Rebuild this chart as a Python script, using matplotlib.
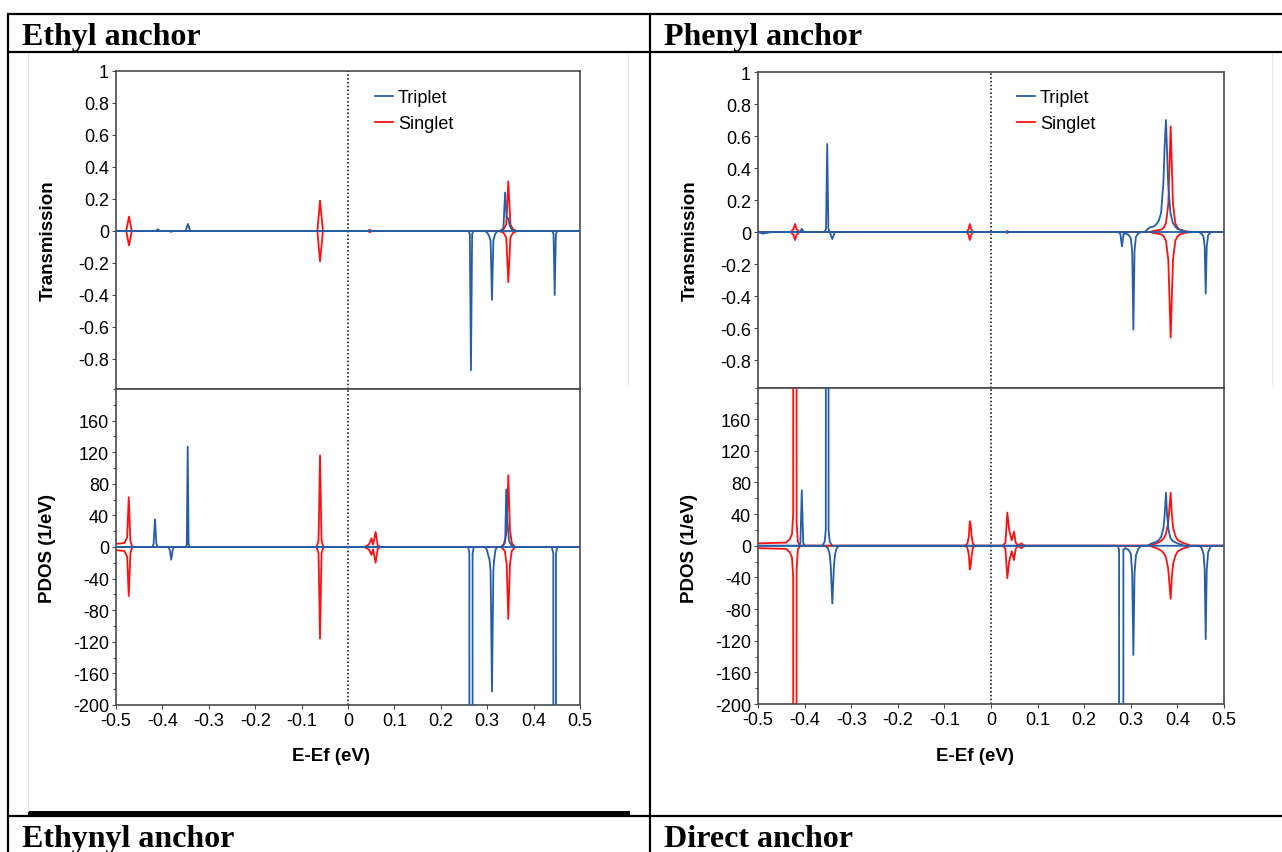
import numpy as np
import matplotlib
matplotlib.use("Agg")
import matplotlib.pyplot as plt
from matplotlib.ticker import FuncFormatter, MultipleLocator, FixedLocator

plt.rcParams['font.family'] = ['Liberation Sans', 'DejaVu Sans']
plt.rcParams['axes.unicode_minus'] = False

# ---------------- data (energies in eV) ----------------
# Ethyl anchor - transmission
eth_T_trip_up_E = [-0.5, -0.415, -0.41, -0.405, -0.35, -0.345, -0.34, 0.33, 0.335, 0.3385, 0.342, 0.345, 0.349, 0.353, 0.36, 0.5]
eth_T_trip_up_V = [0, 0, 0.01, 0, 0, 0.044, 0, 0, 0.02, 0.24, 0.085, 0.08, 0.03, 0.01, 0, 0]
eth_T_trip_dn_E = [-0.5, -0.386, -0.381, -0.376, 0.26, 0.2625, 0.265, 0.2675, 0.27, 0.295, 0.3, 0.304, 0.3073, 0.3103, 0.3133, 0.317, 0.322, 0.44, 0.443, 0.4455, 0.448, 0.451, 0.5]
eth_T_trip_dn_V = [0, 0, -0.005, 0, 0, -0.02, -0.87, -0.02, 0, 0, -0.01, -0.03, -0.06, -0.43, -0.06, -0.02, 0, 0, -0.02, -0.40, -0.02, 0, 0]
eth_T_sing_up_E = [-0.5, -0.478, -0.472, -0.466, -0.066, -0.0603, -0.054, 0.043, 0.047, 0.051, 0.325, 0.335, 0.341, 0.3455, 0.35, 0.356, 0.365, 0.5]
eth_T_sing_up_V = [0, 0, 0.09, 0, 0, 0.19, 0, 0, 0.008, 0, 0, 0.01, 0.04, 0.31, 0.04, 0.01, 0, 0]
eth_T_sing_dn_E = [-0.5, -0.478, -0.472, -0.466, -0.066, -0.0603, -0.054, 0.043, 0.047, 0.051, 0.325, 0.335, 0.341, 0.3455, 0.35, 0.356, 0.365, 0.5]
eth_T_sing_dn_V = [0, 0, -0.09, 0, 0, -0.19, 0, 0, -0.008, 0, 0, -0.01, -0.04, -0.32, -0.04, -0.01, 0, 0]

# Ethyl anchor - PDOS
eth_P_trip_up_E = [-0.5, -0.422, -0.419, -0.416, -0.413, -0.41, -0.35, -0.3475, -0.3455, -0.3435, -0.341, 0.33, 0.336, 0.339, 0.341, 0.344, 0.347, 0.352, 0.36, 0.5]
eth_P_trip_up_V = [0, 0, 4, 35, 4, 0, 0, 3, 127, 3, 0, 0, 3, 12, 73, 30, 8, 2, 0, 0]
eth_P_trip_dn_E = [-0.5, -0.387, -0.384, -0.381, -0.378, -0.375, 0.259, 0.2615, 0.2618, 0.2682, 0.2685, 0.271, 0.295, 0.299, 0.302, 0.305, 0.3073, 0.3103, 0.3133, 0.315, 0.318, 0.322, 0.439, 0.4425, 0.4428, 0.448, 0.4483, 0.451, 0.5]
eth_P_trip_dn_V = [0, 0, -4, -16, -4, 0, 0, -8, -2000, -2000, -8, 0, 0, -3, -10, -16, -30, -183, -30, -16, -3, 0, 0, -8, -2000, -2000, -8, 0, 0]
eth_P_sing_up_E = [-0.5, -0.482, -0.476, -0.4725, -0.469, -0.465, -0.068, -0.0635, -0.0603, -0.057, -0.053, 0.035, 0.042, 0.046, 0.0505, 0.054, 0.0595, 0.064, 0.07, 0.33, 0.338, 0.342, 0.3455, 0.349, 0.353, 0.36, 0.5]
eth_P_sing_up_V = [4, 5, 12, 63, 8, 0, 0, 8, 116, 8, 0, 0, 2, 4, 11, 3, 19, 2, 0, 0, 5, 22, 91, 22, 5, 0, 0]
eth_P_sing_dn_E = [-0.5, -0.482, -0.476, -0.4725, -0.469, -0.465, -0.068, -0.0635, -0.0603, -0.057, -0.053, 0.035, 0.042, 0.046, 0.0505, 0.054, 0.0595, 0.064, 0.07, 0.33, 0.338, 0.342, 0.3455, 0.349, 0.353, 0.36, 0.5]
eth_P_sing_dn_V = [-4, -5, -12, -62, -8, 0, 0, -8, -116, -8, 0, 0, -2, -4, -10, -3, -20, -2, 0, 0, -5, -22, -91, -22, -5, 0, 0]

# Phenyl anchor - transmission
phe_T_trip_up_E = [-0.5, -0.41, -0.406, -0.402, -0.357, -0.354, -0.3515, -0.349, -0.346, 0.33, 0.337, 0.342, 0.35, 0.355, 0.36, 0.365, 0.37, 0.3725, 0.3755, 0.3775, 0.38, 0.385, 0.39, 0.395, 0.4, 0.41, 0.42, 0.5]
phe_T_trip_up_V = [0, 0, 0.02, 0, 0, 0.02, 0.55, 0.02, 0, 0, 0.02, 0.03, 0.035, 0.05, 0.07, 0.12, 0.31, 0.53, 0.70, 0.53, 0.31, 0.12, 0.058, 0.035, 0.02, 0.01, 0, 0]
phe_T_trip_dn_E = [-0.5, -0.49, -0.48, -0.47, -0.346, -0.3405, -0.335, 0.272, 0.2775, 0.281, 0.2845, 0.29, 0.296, 0.3, 0.303, 0.3055, 0.308, 0.311, 0.316, 0.322, 0.445, 0.452, 0.456, 0.4585, 0.4607, 0.463, 0.466, 0.472, 0.5]
phe_T_trip_dn_V = [0, -0.01, -0.005, 0, 0, -0.044, 0, 0, -0.01, -0.09, -0.01, -0.01, -0.02, -0.04, -0.12, -0.61, -0.12, -0.03, -0.01, 0, 0, -0.01, -0.03, -0.09, -0.385, -0.09, -0.02, 0, 0]
phe_T_sing_up_E = [-0.5, -0.43, -0.4235, -0.4205, -0.4175, -0.411, -0.052, -0.048, -0.0455, -0.043, -0.038, 0.031, 0.035, 0.039, 0.34, 0.3555, 0.3655, 0.3705, 0.3755, 0.3805, 0.3855, 0.3905, 0.3955, 0.4005, 0.4055, 0.4155, 0.43, 0.5]
phe_T_sing_up_V = [0, 0, 0.02, 0.05, 0.02, 0, 0, 0.02, 0.05, 0.02, 0, 0, 0.006, 0, 0, 0.01, 0.015, 0.026, 0.055, 0.175, 0.66, 0.175, 0.055, 0.026, 0.015, 0.006, 0, 0]
phe_T_sing_dn_E = [-0.5, -0.43, -0.4235, -0.4205, -0.4175, -0.411, -0.052, -0.048, -0.0455, -0.043, -0.038, 0.031, 0.035, 0.039, 0.34, 0.3555, 0.3655, 0.3705, 0.3755, 0.3805, 0.3855, 0.3905, 0.3955, 0.4005, 0.4055, 0.4155, 0.43, 0.5]
phe_T_sing_dn_V = [0, 0, -0.02, -0.05, -0.02, 0, 0, -0.02, -0.05, -0.02, 0, 0, -0.006, 0, 0, -0.01, -0.015, -0.026, -0.055, -0.175, -0.66, -0.175, -0.055, -0.026, -0.015, -0.006, 0, 0]

# Phenyl anchor - PDOS
phe_P_trip_up_E = [-0.5, -0.412, -0.409, -0.406, -0.403, -0.4, -0.362, -0.357, -0.3545, -0.3535, -0.3495, -0.3485, -0.346, -0.341, 0.335, 0.345, 0.355, 0.36, 0.365, 0.37, 0.3725, 0.3755, 0.378, 0.381, 0.385, 0.39, 0.4, 0.415, 0.5]
phe_P_trip_up_V = [0, 0, 4, 70, 4, 0, 0, 5, 20, 2000, 2000, 20, 5, 0, 0, 3, 5, 7, 11, 22, 38, 67, 38, 20, 10, 6, 3, 0, 0]
phe_P_trip_dn_E = [-0.5, -0.356, -0.35, -0.3465, -0.344, -0.3405, -0.337, -0.3345, -0.331, -0.326, 0.272, 0.2748, 0.2752, 0.2836, 0.284, 0.288, 0.295, 0.3, 0.303, 0.3055, 0.308, 0.311, 0.316, 0.322, 0.447, 0.452, 0.456, 0.4585, 0.4607, 0.463, 0.466, 0.472, 0.5]
phe_P_trip_dn_V = [0, 0, -3, -10, -25, -73, -25, -10, -3, 0, 0, -5, -2000, -2000, -5, -3, -5, -10, -35, -138, -35, -12, -4, 0, 0, -3, -10, -30, -118, -30, -8, 0, 0]
phe_P_sing_up_E = [-0.5, -0.44, -0.432, -0.427, -0.4245, -0.4238, -0.4181, -0.4172, -0.4145, -0.41, -0.056, -0.0505, -0.0475, -0.0455, -0.0435, -0.0415, -0.039, -0.035, 0.025, 0.031, 0.035, 0.039, 0.0444, 0.0494, 0.053, 0.058, 0.062, 0.0658, 0.069, 0.075, 0.34, 0.355, 0.365, 0.37, 0.375, 0.38, 0.3825, 0.3855, 0.388, 0.391, 0.396, 0.401, 0.41, 0.42, 0.43, 0.5]
phe_P_sing_up_V = [3, 4, 8, 15, 40, 2500, 2500, 30, 5, 0, 0, 3, 12, 31, 26, 12, 3, 0, 0, 4, 42, 20, 7, 18, 4, 0, 2, 3, 1, 0, 0, 3, 6, 9, 14, 28, 45, 67, 40, 22, 12, 7, 4, 2, 0, 0]
phe_P_sing_dn_E = [-0.5, -0.44, -0.432, -0.427, -0.4245, -0.4238, -0.4181, -0.4172, -0.4145, -0.41, -0.056, -0.0505, -0.0475, -0.0455, -0.0435, -0.0415, -0.039, -0.035, 0.025, 0.031, 0.035, 0.039, 0.0444, 0.0494, 0.053, 0.058, 0.062, 0.0658, 0.069, 0.075, 0.34, 0.355, 0.365, 0.37, 0.375, 0.38, 0.3825, 0.3855, 0.388, 0.391, 0.396, 0.401, 0.41, 0.42, 0.43, 0.5]
phe_P_sing_dn_V = [-3, -4, -8, -15, -40, -2500, -2500, -30, -5, 0, 0, -3, -12, -30, -25, -12, -3, 0, 0, -4, -41, -20, -7, -18, -4, 0, -2, -3, -1, 0, 0, -3, -6, -9, -14, -28, -45, -67, -40, -22, -12, -7, -4, -2, 0, 0]

x_ticks = [-0.5, -0.4, -0.3, -0.2, -0.1, 0, 0.1, 0.2, 0.3, 0.4, 0.5]
T_ticks = [-0.8, -0.6, -0.4, -0.2, 0, 0.2, 0.4, 0.6, 0.8, 1]
P_ticks = [-200, -160, -120, -80, -40, 0, 40, 80, 120, 160]
headers = ["Ethyl anchor", "Phenyl anchor", "Ethynyl anchor", "Direct anchor"]
series_names = ["Triplet", "Singlet"]

BLUE = "#255ea6"
RED = "#ff1010"
SPINE = "#4a4a4a"

W, H = 1282, 853
fig = plt.figure(figsize=(W / 100, H / 100), dpi=100)

# --------- table overlay (pixel coordinates) ---------
ov = fig.add_axes([0, 0, 1, 1], zorder=0)
ov.set_xlim(0, W)
ov.set_ylim(H, 0)
ov.axis('off')
lw_tab = 1.6
for y in (15, 53, 816.5):
    ov.plot([7, W], [y, y], color='black', lw=lw_tab, solid_capstyle='butt')
for x in (8, 649.5):
    ov.plot([x, x], [15, H], color='black', lw=lw_tab, solid_capstyle='butt')
ov.fill_between([28, 630], 812, 816, color='black', lw=0)
ov.plot([28, 28], [55, 812], color='#dddddd', lw=0.8)
ov.plot([628, 628], [55, 385], color='#e6e6e6', lw=0.8)
ov.plot([1272, 1272], [55, 385], color='#e6e6e6', lw=0.8)
hdr_font = dict(family=['Liberation Serif', 'DejaVu Serif'], fontweight='bold', fontsize=23, va='baseline', ha='left')
ov.text(22, 45, headers[0], **hdr_font)
ov.text(664, 45, headers[1], **hdr_font)
ov.text(22, 847, headers[2], **hdr_font)
ov.text(664, 847, headers[3], **hdr_font)


def px_rect(l, r, t, b):
    return [l / W, 1 - b / H, (r - l) / W, (b - t) / H]


fmt = FuncFormatter(lambda v, p: f"{v:g}")


def style(ax):
    for s in ax.spines.values():
        s.set_color(SPINE)
        s.set_linewidth(1.2)
    ax.tick_params(axis='both', which='both', direction='out', color=SPINE,
                   labelsize=13, pad=2)
    ax.tick_params(axis='both', which='major', length=3, width=0.8)
    ax.tick_params(axis='both', which='minor', length=2, width=0.8)
    ax.set_xlim(-0.5, 0.5)
    ax.axvline(0, color='black', ls=(0, (1, 1.5)), lw=1.1, zorder=1)


panels = [
    dict(T=(eth_T_trip_up_E, eth_T_trip_up_V, eth_T_trip_dn_E, eth_T_trip_dn_V,
            eth_T_sing_up_E, eth_T_sing_up_V, eth_T_sing_dn_E, eth_T_sing_dn_V),
         P=(eth_P_trip_up_E, eth_P_trip_up_V, eth_P_trip_dn_E, eth_P_trip_dn_V,
            eth_P_sing_up_E, eth_P_sing_up_V, eth_P_sing_dn_E, eth_P_sing_dn_V),
         l=116, r=580, tT=72, mid=390, bP=706, labx=48, xlab_x=331),
    dict(T=(phe_T_trip_up_E, phe_T_trip_up_V, phe_T_trip_dn_E, phe_T_trip_dn_V,
            phe_T_sing_up_E, phe_T_sing_up_V, phe_T_sing_dn_E, phe_T_sing_dn_V),
         P=(phe_P_trip_up_E, phe_P_trip_up_V, phe_P_trip_dn_E, phe_P_trip_dn_V,
            phe_P_sing_up_E, phe_P_sing_up_V, phe_P_sing_dn_E, phe_P_sing_dn_V),
         l=758, r=1224, tT=73, mid=388.5, bP=705, labx=690, xlab_x=975),
]

for pn in panels:
    axT = fig.add_axes(px_rect(pn['l'], pn['r'], pn['tT'], pn['mid']), zorder=2)
    axP = fig.add_axes(px_rect(pn['l'], pn['r'], pn['mid'], pn['bP']), zorder=2)
    # transmission: 1 at top, 160 px per unit
    hT = pn['mid'] - pn['tT']
    axT.set_ylim(1 - hT / 160.0, 1)
    axP.set_ylim(-200, 200)
    for ax, d in ((axT, pn['T']), (axP, pn['P'])):
        style(ax)
        ax.plot(d[4], d[5], color=RED, lw=1.3, zorder=2)
        ax.plot(d[6], d[7], color=RED, lw=1.3, zorder=2)
        ax.plot(d[0], d[1], color=BLUE, lw=1.3, zorder=3)
        ax.plot(d[2], d[3], color=BLUE, lw=1.3, zorder=3)
    axT.yaxis.set_major_locator(FixedLocator(T_ticks))
    axT.yaxis.set_major_formatter(fmt)
    axT.tick_params(axis='x', which='both', bottom=False, labelbottom=False)
    axP.yaxis.set_major_locator(FixedLocator(P_ticks))
    axP.yaxis.set_minor_locator(MultipleLocator(20))
    axP.yaxis.set_major_formatter(fmt)
    axP.xaxis.set_major_locator(FixedLocator(x_ticks))
    axP.xaxis.set_major_formatter(fmt)
    # legend
    hs = [plt.Line2D([], [], color=BLUE, lw=1.3), plt.Line2D([], [], color=RED, lw=1.3)]
    axT.legend(hs, series_names, loc='upper left',
               bbox_to_anchor=(252 / (pn['r'] - pn['l']), (pn['mid'] - 83) / hT),
               frameon=False, fontsize=13, handlelength=1.0, handletextpad=0.25,
               labelspacing=0.5, borderpad=0.4, borderaxespad=0)
    # axis labels
    fig.text(pn['labx'] / W, 1 - 241 / H, "Transmission", rotation=90, fontsize=13.5,
             fontweight='bold', ha='center', va='center')
    fig.text(pn['labx'] / W, 1 - 549 / H, "PDOS (1/eV)", rotation=90, fontsize=13.5,
             fontweight='bold', ha='center', va='center')
    fig.text(pn['xlab_x'] / W, 1 - 757 / H, "E-Ef (eV)", fontsize=13.5,
             fontweight='bold', ha='center', va='center')

fig.savefig("out.png", dpi=100)
